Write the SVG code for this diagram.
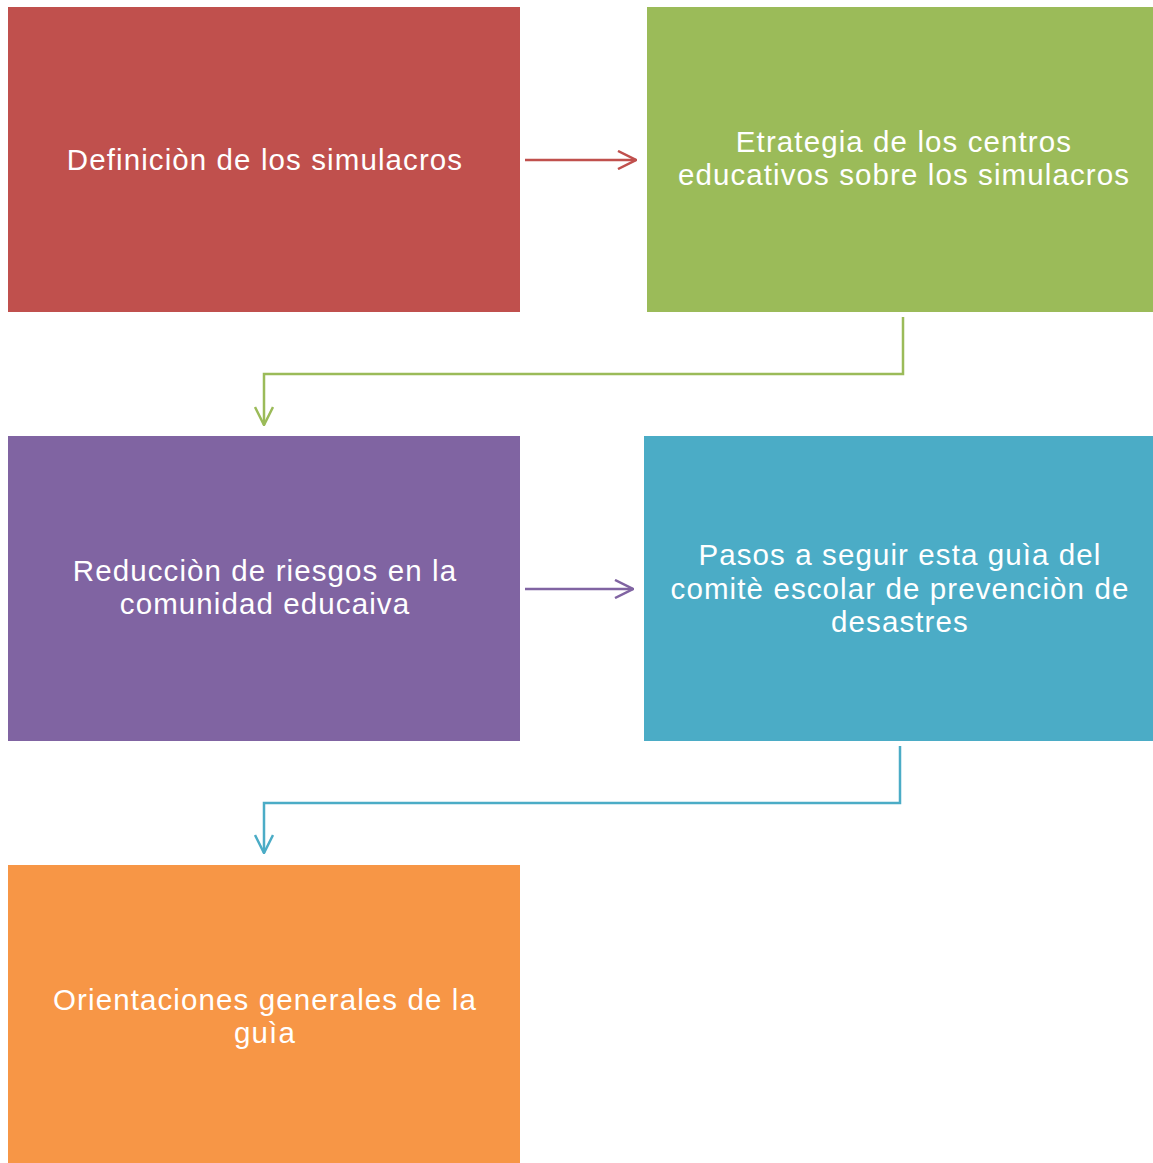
<svg xmlns="http://www.w3.org/2000/svg" width="1153" height="1163" viewBox="0 0 1153 1163">
<style>
.t{font-family:"Liberation Sans",Arial,sans-serif;font-size:29.5px;letter-spacing:1.1px;fill:#FFFFFF;text-anchor:middle}
.c{fill:none;stroke-width:2.5}
</style>
<defs>
<marker id="mr" viewBox="0 0 20 20" refX="19" refY="10" markerWidth="20" markerHeight="20" markerUnits="userSpaceOnUse" orient="auto"><path d="M1,1 L19,10 L1,19" fill="none" stroke="#C0504D" stroke-width="2.5"/></marker>
<marker id="mg" viewBox="0 0 20 20" refX="19" refY="10" markerWidth="20" markerHeight="20" markerUnits="userSpaceOnUse" orient="auto"><path d="M1,1 L19,10 L1,19" fill="none" stroke="#9BBB59" stroke-width="2.5"/></marker>
<marker id="mp" viewBox="0 0 20 20" refX="19" refY="10" markerWidth="20" markerHeight="20" markerUnits="userSpaceOnUse" orient="auto"><path d="M1,1 L19,10 L1,19" fill="none" stroke="#8064A2" stroke-width="2.5"/></marker>
<marker id="mb" viewBox="0 0 20 20" refX="19" refY="10" markerWidth="20" markerHeight="20" markerUnits="userSpaceOnUse" orient="auto"><path d="M1,1 L19,10 L1,19" fill="none" stroke="#4BACC6" stroke-width="2.5"/></marker>
</defs>
<rect width="1153" height="1163" fill="#FFFFFF"/>
<g id="n1"><rect x="8" y="7" width="512" height="305" fill="#C0504D"/><text class="t" x="265" y="170">Definiciòn de los simulacros</text></g>
<g id="n2"><rect x="647" y="7" width="506" height="305" fill="#9BBB59"/><text class="t" x="904" y="152">Etrategia de los centros</text><text class="t" x="904" y="185">educativos sobre los simulacros</text></g>
<g id="n3"><rect x="8" y="436" width="512" height="305" fill="#8064A2"/><text class="t" x="265" y="581">Reducciòn de riesgos en la</text><text class="t" x="265" y="614">comunidad educaiva</text></g>
<g id="n4"><rect x="644" y="436" width="509" height="305" fill="#4BACC6"/><text class="t" x="900" y="565">Pasos a seguir esta guìa del</text><text class="t" x="900" y="599">comitè escolar de prevenciòn de</text><text class="t" x="900" y="632">desastres</text></g>
<g id="n5"><rect x="8" y="865" width="512" height="298" fill="#F79646"/><text class="t" x="265" y="1010">Orientaciones generales de la</text><text class="t" x="265" y="1043">guìa</text></g>
<g id="connectors">
<path class="c" stroke="#C0504D" d="M525,160 H636" marker-end="url(#mr)"/>
<path class="c" stroke="#9BBB59" d="M903,317 V374 H264 V425" marker-end="url(#mg)"/>
<path class="c" stroke="#8064A2" d="M525,589 H633" marker-end="url(#mp)"/>
<path class="c" stroke="#4BACC6" d="M900,746 V803 H264 V853" marker-end="url(#mb)"/>
</g>
</svg>
